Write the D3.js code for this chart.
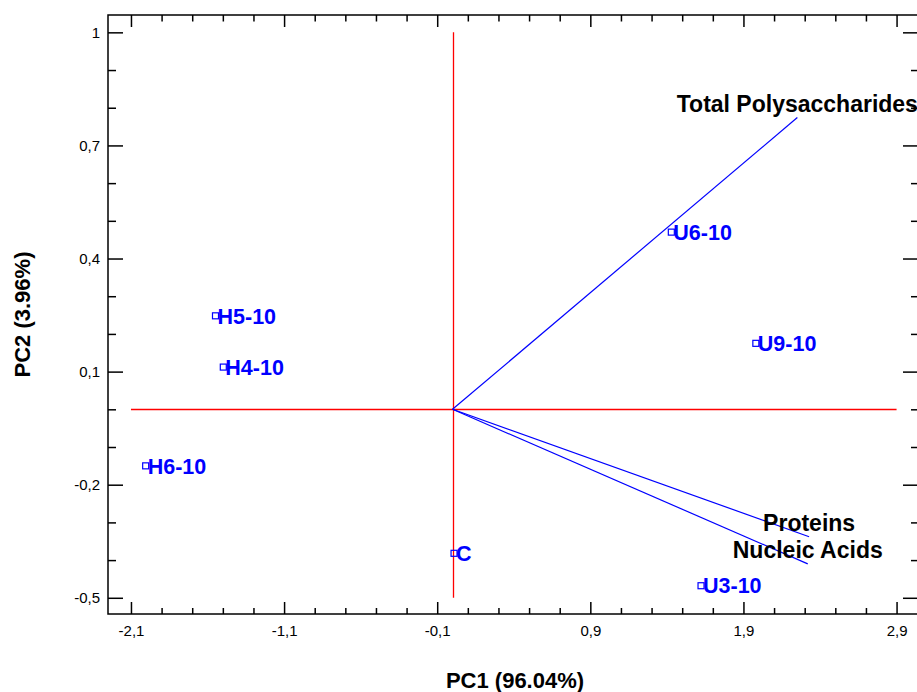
<!DOCTYPE html>
<html lang="en">
<head>
    <meta charset="UTF-8">
    <title>PCA Biplot</title>
    <script src="https://d3js.org/d3.v7.min.js"></script>
    <style>
        body { margin: 0; padding: 0; background: white; overflow: hidden; }
        svg { display: block; font-family: Arial, "Liberation Sans", sans-serif; }
        .tick text { font-size: 15px; fill: #000; }
        .tick line { stroke: #000; stroke-width: 1.5; }
        .axis-title { font-size: 22px; font-weight: bold; fill: #000; }
        .sample-label { font-size: 21.5px; font-weight: bold; fill: #0000ff; }
        .var-label { font-size: 23px; font-weight: bold; fill: #000; }
    </style>
</head>
<body>
    <div id="chart"></div>

    <script>
        // Sample scores
        const sampleNames = ["H5-10", "H4-10", "H6-10", "C", "U6-10", "U9-10", "U3-10"];
        const pc1Scores = [-1.548, -1.497, -2.004, 0.010, 1.429, 1.981, 1.623];
        const pc2Scores = [0.248, 0.112, -0.150, -0.382, 0.470, 0.175, -0.468];

        // Variable loadings (vectors from origin)
        const variableNames = ["Total Polysaccharides", "Proteins", "Nucleic Acids"];
        const pc1Loadings = [2.252, 2.329, 2.320];
        const pc2Loadings = [0.774, -0.338, -0.410];

        // Axis ticks
        const xMajorTicks = [-2.1, -1.1, -0.1, 0.9, 1.9, 2.9];
        const xMinorTicks = [-1.9, -1.7, -1.5, -1.3, -0.9, -0.7, -0.5, -0.3, 0.1, 0.3, 0.5, 0.7, 1.1, 1.3, 1.5, 1.7, 2.1, 2.3, 2.5, 2.7];
        const yMajorTicks = [-0.5, -0.2, 0.1, 0.4, 0.7, 1];
        const yMinorTicks = [-0.4, -0.3, -0.1, 0, 0.2, 0.3, 0.5, 0.6, 0.8, 0.9];
        const xDomain = [-2.25, 3.04];
        const yDomain = [-0.543, 1.046];

        const width = 917, height = 692;
        const margin = {top: 15, right: -1, bottom: 78, left: 108};

        const locale = d3.formatLocale({decimal: ",", thousands: ".", grouping: [3], currency: ["", ""], minus: "-"});
        const fmt = d => locale.format("~g")(+d.toFixed(2));

        function drawBiplot() {
            const svg = d3.select("#chart").append("svg")
                .attr("width", width)
                .attr("height", height);

            const x = d3.scaleLinear().domain(xDomain).range([margin.left, width - margin.right]);
            const y = d3.scaleLinear().domain(yDomain).range([height - margin.bottom, margin.top]);
            const x0 = x.range()[0], x1 = x.range()[1];
            const y0 = y.range()[1], y1 = y.range()[0];

            // Frame
            svg.append("rect")
                .attr("x", x0).attr("y", y0)
                .attr("width", x1 - x0).attr("height", y1 - y0)
                .attr("fill", "none").attr("stroke", "#000").attr("stroke-width", 1.5);

            // Bottom axis (inward ticks)
            svg.append("g").attr("transform", `translate(0,${y1})`)
                .call(d3.axisBottom(x).tickValues(xMajorTicks).tickSizeInner(-12).tickSizeOuter(0).tickPadding(11).tickFormat(fmt));
            svg.append("g").attr("transform", `translate(0,${y1})`)
                .call(d3.axisBottom(x).tickValues(xMinorTicks).tickSizeInner(-6).tickSizeOuter(0).tickFormat(""));
            // Top axis
            svg.append("g").attr("transform", `translate(0,${y0})`)
                .call(d3.axisTop(x).tickValues(xMajorTicks).tickSizeInner(-12).tickSizeOuter(0).tickFormat(""));
            svg.append("g").attr("transform", `translate(0,${y0})`)
                .call(d3.axisTop(x).tickValues(xMinorTicks).tickSizeInner(-6.5).tickSizeOuter(0).tickFormat(""));
            // Left axis
            svg.append("g").attr("transform", `translate(${x0},0)`)
                .call(d3.axisLeft(y).tickValues(yMajorTicks).tickSizeInner(-15).tickSizeOuter(0).tickPadding(8).tickFormat(fmt));
            svg.append("g").attr("transform", `translate(${x0},0)`)
                .call(d3.axisLeft(y).tickValues(yMinorTicks).tickSizeInner(-8).tickSizeOuter(0).tickFormat(""));
            // Right axis
            svg.append("g").attr("transform", `translate(${x1},0)`)
                .call(d3.axisRight(y).tickValues(yMajorTicks).tickSizeInner(-15).tickSizeOuter(0).tickFormat(""));
            svg.append("g").attr("transform", `translate(${x1},0)`)
                .call(d3.axisRight(y).tickValues(yMinorTicks).tickSizeInner(-7).tickSizeOuter(0).tickFormat(""));

            svg.selectAll(".domain").remove();

            // Red reference lines through origin
            svg.append("line")
                .attr("x1", x(xMajorTicks[0])).attr("x2", x(xMajorTicks[xMajorTicks.length - 1]))
                .attr("y1", Math.round(y(0)) + 0.5).attr("y2", Math.round(y(0)) + 0.5)
                .attr("stroke", "#ff0000").attr("stroke-width", 1.3);
            svg.append("line")
                .attr("x1", Math.round(x(0)) + 0.5).attr("x2", Math.round(x(0)) + 0.5)
                .attr("y1", y(yMajorTicks[0])).attr("y2", y(yMajorTicks[yMajorTicks.length - 1]))
                .attr("stroke", "#ff0000").attr("stroke-width", 1.3);

            // Loading vectors
            const vars = variableNames.map((name, i) => ({name, pc1: pc1Loadings[i], pc2: pc2Loadings[i]}));
            svg.selectAll(".vec")
                .data(vars)
                .enter()
                .append("line")
                .attr("class", "vec")
                .attr("x1", x(0)).attr("y1", y(0))
                .attr("x2", d => x(d.pc1)).attr("y2", d => y(d.pc2))
                .attr("stroke", "#0000ff").attr("stroke-width", 1.2);
            svg.selectAll(".var-label")
                .data(vars)
                .enter()
                .append("text")
                .attr("class", "var-label")
                .attr("text-anchor", "middle")
                .attr("x", d => x(d.pc1))
                .attr("y", d => y(d.pc2) - 6)
                .text(d => d.name);

            // Sample points
            const samples = sampleNames.map((name, i) => ({name, pc1: pc1Scores[i], pc2: pc2Scores[i]}));
            svg.selectAll(".pt")
                .data(samples)
                .enter()
                .append("rect")
                .attr("class", "pt")
                .attr("x", d => x(d.pc1) - 3).attr("y", d => y(d.pc2) - 3)
                .attr("width", 6).attr("height", 6)
                .attr("fill", "none").attr("stroke", "#0000ff").attr("stroke-width", 1.2);
            svg.selectAll(".sample-label")
                .data(samples)
                .enter()
                .append("text")
                .attr("class", "sample-label")
                .attr("x", d => x(d.pc1) + 2)
                .attr("y", d => y(d.pc2))
                .attr("dy", "0.36em")
                .text(d => d.name);

            // Axis titles
            svg.append("text")
                .attr("class", "axis-title")
                .attr("text-anchor", "middle")
                .attr("x", (x0 + x1) / 2 + 2)
                .attr("y", 688)
                .text("PC1 (96.04%)");
            svg.append("text")
                .attr("class", "axis-title")
                .attr("text-anchor", "middle")
                .attr("transform", `translate(30,${(y0 + y1) / 2}) rotate(-90)`)
                .text("PC2 (3.96%)");
        }

        drawBiplot();
    </script>
</body>
</html>
